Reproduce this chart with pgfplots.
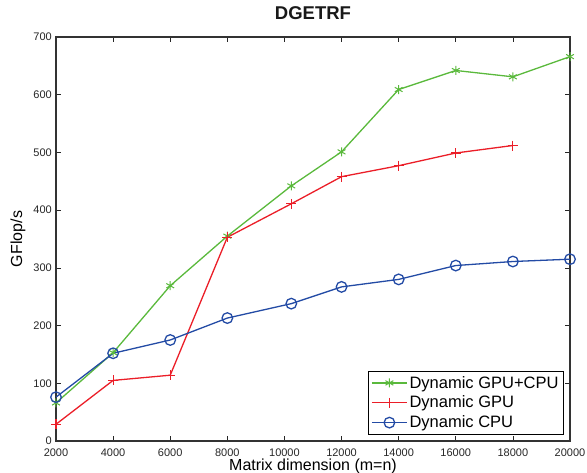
\documentclass[border=0pt]{standalone}
\usepackage{pgfplots}
\pgfplotsset{compat=1.18}
\usepackage{fontspec}
\setmainfont{Liberation Sans}
\definecolor{cgreen}{RGB}{90,185,60}
\definecolor{cred}{RGB}{235,30,40}
\definecolor{cblue}{RGB}{35,75,165}
\begin{document}
\begin{tikzpicture}
\begin{axis}[
    at={(0,0)}, anchor=south west,
    scale only axis,
    width=514pt, height=404pt,
    xmin=2000, xmax=20000,
    ymin=0, ymax=700,
    xtick={2000,4000,...,20000},
    ytick={0,100,...,700},
    tick align=inside,
    major tick length=5pt,
    tick style={black!85, line width=0.7pt},
    axis line style={line width=1.3pt, black!80},
    /pgf/number format/assume math mode=true,
    /pgf/number format/1000 sep={},
    scaled x ticks=false,
    tick label style={font=\fontsize{11}{13}\selectfont, text=black!85},
    xticklabel style={anchor=base, yshift=-15.5pt},
    yticklabel style={anchor=east, inner sep=0pt, xshift=-4pt},
    xlabel={Matrix dimension (m=n)},
    ylabel={GFlop/s},
    label style={font=\fontsize{16}{18}\selectfont},
    xlabel style={at={(axis description cs:0.5,0)}, anchor=base, yshift=-30pt},
    ylabel style={at={(axis description cs:-0.0739,0.5)}, anchor=center},
    title={\textbf{DGETRF}},
    title style={font=\fontsize{18.5}{20}\selectfont, text=black!90,
        at={(axis description cs:0.5,1)}, anchor=base, yshift=11pt},
    legend style={font=\fontsize{16.5}{19.5}\selectfont, draw=black, line width=0.9pt,
        at={(rel axis cs:1,0)}, anchor=south east, xshift=-6pt, yshift=6pt,
        inner xsep=3pt, inner ysep=2pt,
        nodes={inner ysep=3.2pt, inner xsep=2pt}},
    legend cell align=left,
    legend image code/.code={
        \draw[mark repeat=2,mark phase=2,#1]
        plot coordinates {(0pt,0pt)(17.5pt,0pt)(35pt,0pt)};},
]
\addplot[color=cgreen, line width=1.3pt, mark=asterisk, mark size=4.5pt,
    mark options={line width=1pt}]
    coordinates {(2000,66)(4000,153)(6000,269)(8000,355)(10240,442)(12000,501)
    (14000,609)(16000,642)(18000,631)(20000,666)};
\addlegendentry{Dynamic GPU+CPU}
\addplot[color=cred, line width=1.3pt, mark=+, mark size=5pt,
    mark options={line width=1.2pt}]
    coordinates {(2000,29)(4000,105)(6000,114)(8000,353)(10240,411)(12000,458)
    (14000,477)(16000,499)(18000,512)};
\addlegendentry{Dynamic GPU}
\addplot[color=cblue, line width=1.3pt, mark=o, mark size=5.3pt,
    mark options={line width=1.3pt}]
    coordinates {(2000,76)(4000,152)(6000,175)(8000,213)(10240,238)(12000,267)
    (14000,280)(16000,304)(18000,311)(20000,315)};
\addlegendentry{Dynamic CPU}
\end{axis}
\pgfresetboundingbox
\useasboundingbox (-56pt,-32pt) rectangle (531pt,441pt);
\end{tikzpicture}
\end{document}
